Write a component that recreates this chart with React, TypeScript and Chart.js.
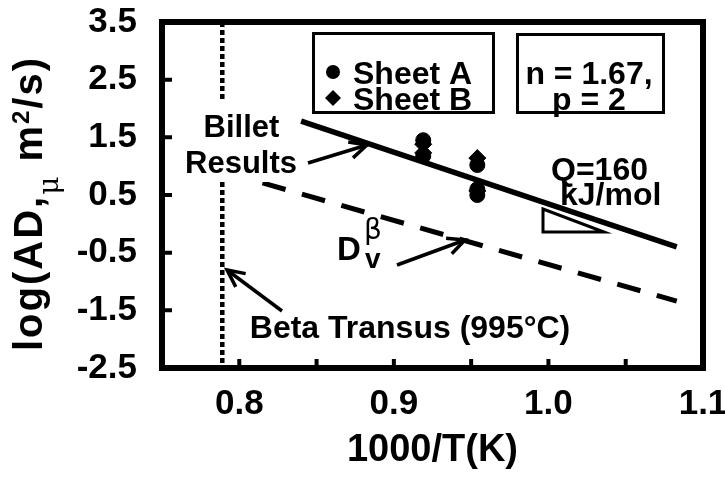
import React, { useEffect, useRef } from "react";
import { Chart, registerables } from "chart.js";

Chart.register(...registerables);

const FONT = '"Liberation Sans", Arial, Helvetica, sans-serif';

// Axis ticks
const xLabelTicks = [0.8, 0.9, 1.0, 1.1];
const xMinorTicks = [0.8, 0.85, 0.9, 0.95, 1.0, 1.05];
const yTicks = [-2.5, -1.5, -0.5, 0.5, 1.5, 2.5, 3.5];

// Sheet A (circles)
const sheetAX = [0.919, 0.919, 0.954, 0.954, 0.954];
const sheetAY = [1.45, 1.18, 1.02, 0.6, 0.5];
// Sheet B (diamonds)
const sheetBX = [0.919, 0.919, 0.954, 0.954];
const sheetBY = [1.38, 1.23, 1.14, 0.57];
// Billet results line (Q = 160 kJ/mol)
const billetX = [0.84, 1.083];
const billetY = [1.78, -0.4];
// D_v beta line
const dvX = [0.815, 1.083];
const dvY = [0.71, -1.34];
// Beta transus (995 C)
const transusX = [0.789, 0.789];
const transusY = [3.5, -2.5];

const pts = (xs: number[], ys: number[]) => xs.map((x, i) => ({ x, y: ys[i] }));

function arrow(ctx: CanvasRenderingContext2D, x1: number, y1: number, x2: number, y2: number) {
  ctx.save();
  ctx.strokeStyle = "#000";
  ctx.lineWidth = 3.5;
  ctx.lineCap = "butt";
  ctx.beginPath();
  ctx.moveTo(x1, y1);
  ctx.lineTo(x2, y2);
  ctx.stroke();
  const a = Math.atan2(y2 - y1, x2 - x1);
  const L = 19;
  const w = 0.45;
  ctx.lineJoin = "miter";
  ctx.beginPath();
  ctx.moveTo(x2 - L * Math.cos(a - w), y2 - L * Math.sin(a - w));
  ctx.lineTo(x2, y2);
  ctx.lineTo(x2 - L * Math.cos(a + w), y2 - L * Math.sin(a + w));
  ctx.stroke();
  ctx.restore();
}

function drawYTitle(ctx: CanvasRenderingContext2D) {
  ctx.save();
  ctx.translate(42, 203.5);
  ctx.rotate(-Math.PI / 2);
  ctx.fillStyle = "#000";
  ctx.textBaseline = "alphabetic";
  ctx.textAlign = "left";
  const sp = 2;
  const parts = [
    { t: "log(AD,", f: `bold 40px ${FONT}`, dy: 0 },
    { t: "\u03bc", f: `28px "DejaVu Serif", serif`, dy: 16 },
    { t: " m", f: `bold 40px ${FONT}`, dy: 0 },
    { t: "2", f: `bold 24px ${FONT}`, dy: -13 },
    { t: "/s)", f: `bold 40px ${FONT}`, dy: 0 },
  ];
  const widths = parts.map((p) => {
    ctx.font = p.f;
    return ctx.measureText(p.t).width + sp * p.t.length;
  });
  const total = widths.reduce((a, b) => a + b, 0);
  let x = -total / 2;
  parts.forEach((p, i) => {
    ctx.font = p.f;
    let cx = x;
    for (const ch of p.t) {
      ctx.fillText(ch, cx, p.dy);
      cx += ctx.measureText(ch).width + sp;
    }
    x += widths[i];
  });
  ctx.restore();
}

const annotations = {
  id: "annotations",
  afterDatasetsDraw(chart: any) {
    const ctx: CanvasRenderingContext2D = chart.ctx;
    const { left, right, top, bottom } = chart.chartArea;
    const xs = chart.scales.x;
    const ys = chart.scales.y;
    ctx.save();

    // white background behind "Billet Results" (breaks the dotted line)
    ctx.fillStyle = "#fff";
    ctx.fillRect(183, 101, 115, 81);

    // frame
    ctx.strokeStyle = "#000";
    ctx.lineWidth = 6;
    ctx.strokeRect(left, top, right - left, bottom - top);

    // inner tick marks
    ctx.lineWidth = 4;
    ctx.beginPath();
    xMinorTicks.forEach((v) => {
      const p = xs.getPixelForValue(v);
      ctx.moveTo(p, bottom);
      ctx.lineTo(p, bottom - 9);
    });
    yTicks.forEach((v) => {
      if (v <= -2.5 || v >= 3.5) return;
      const p = ys.getPixelForValue(v);
      ctx.moveTo(left, p);
      ctx.lineTo(left + 10, p);
    });
    ctx.stroke();

    ctx.fillStyle = "#000";
    ctx.textBaseline = "alphabetic";

    // legend box
    ctx.lineWidth = 3;
    ctx.strokeRect(313.5, 33.5, 180, 79);
    ctx.beginPath();
    ctx.arc(333, 72, 7, 0, Math.PI * 2);
    ctx.fill();
    ctx.beginPath();
    ctx.moveTo(333, 90);
    ctx.lineTo(341, 98);
    ctx.lineTo(333, 106);
    ctx.lineTo(325, 98);
    ctx.closePath();
    ctx.fill();
    ctx.font = `bold 32px ${FONT}`;
    ctx.textAlign = "left";
    ctx.fillText("Sheet A", 353, 84);
    ctx.fillText("Sheet B", 353, 110);

    // n, p box
    ctx.strokeRect(517.5, 34.5, 146, 78);
    ctx.textAlign = "center";
    ctx.fillText("n = 1.67,", 589, 84);
    ctx.fillText("p = 2", 589, 110);

    // Billet Results
    ctx.font = `bold 31px ${FONT}`;
    ctx.fillText("Billet", 241.5, 137);
    ctx.fillText("Results", 241, 173);
    arrow(ctx, 308, 163, 367, 145);

    // Q = 160 kJ/mol
    ctx.font = `bold 32px ${FONT}`;
    ctx.textAlign = "left";
    ctx.fillText("Q=160", 551, 180);
    ctx.fillText("kJ/mol", 560, 205);

    // slope triangle
    ctx.lineWidth = 3;
    ctx.lineJoin = "miter";
    ctx.beginPath();
    ctx.moveTo(543, 209);
    ctx.lineTo(543, 232);
    ctx.lineTo(604, 232);
    ctx.closePath();
    ctx.stroke();

    // D_v^beta
    ctx.font = `bold 33px ${FONT}`;
    ctx.fillText("D", 337, 260);
    ctx.font = `28px "DejaVu Sans", ${FONT}`;
    ctx.fillText("\u03b2", 364, 239);
    ctx.font = `bold 28px ${FONT}`;
    ctx.fillText("v", 365, 268);
    arrow(ctx, 397, 265, 465, 240);

    // Beta transus
    ctx.font = `bold 32px ${FONT}`;
    ctx.textAlign = "center";
    ctx.fillText("Beta Transus (995\u00b0C)", 410, 338);
    arrow(ctx, 282, 311, 227, 270);

    // axis titles
    ctx.font = `bold 38px ${FONT}`;
    ctx.textAlign = "center";
    ctx.fillText("1000/T(K)", (left + right) / 2, 461);
    drawYTitle(ctx);

    ctx.restore();
  },
};

export default function App() {
  const ref = useRef<HTMLCanvasElement | null>(null);
  useEffect(() => {
    document.body.style.margin = "0";
    const canvas = ref.current;
    if (!canvas) return;
    Chart.defaults.font.family = FONT;
    Chart.defaults.color = "#000";
    const tickFont = { family: FONT, size: 35, weight: "bold" as const };
    const chart = new Chart(canvas, {
      type: "scatter",
      data: {
        datasets: [
          {
            label: "Beta transus",
            data: pts(transusX, transusY),
            showLine: true,
            borderColor: "#000",
            borderWidth: 4.5,
            borderDash: [5, 3],
            pointRadius: 0,
          },
          {
            label: "Billet Results",
            data: pts(billetX, billetY),
            showLine: true,
            borderColor: "#000",
            borderWidth: 5.5,
            pointRadius: 0,
          },
          {
            label: "Dv beta",
            data: pts(dvX, dvY),
            showLine: true,
            borderColor: "#000",
            borderWidth: 5,
            borderDash: [24, 17],
            pointRadius: 0,
          },
          {
            label: "Sheet A",
            data: pts(sheetAX, sheetAY),
            pointStyle: "circle",
            pointRadius: 7.5,
            backgroundColor: "#000",
            borderColor: "#000",
            borderWidth: 1,
          },
          {
            label: "Sheet B",
            data: pts(sheetBX, sheetBY),
            pointStyle: "rectRot",
            pointRadius: 8.5,
            backgroundColor: "#000",
            borderColor: "#000",
            borderWidth: 1,
          },
        ],
      },
      options: {
        responsive: false,
        animation: false,
        devicePixelRatio: 1,
        layout: { padding: { top: 22, right: 22, left: 0, bottom: 0 } },
        plugins: {
          legend: { display: false },
          tooltip: { enabled: false },
          title: { display: false },
        },
        scales: {
          x: {
            type: "linear",
            min: 0.75,
            max: 1.1,
            grid: { display: false, drawTicks: false },
            border: { display: false },
            ticks: {
              padding: 15,
              color: "#000",
              font: tickFont,
              autoSkip: false,
              maxRotation: 0,
              callback: (v: any) => Number(v).toFixed(1),
            },
            afterBuildTicks: (s: any) => {
              s.ticks = xLabelTicks.map((v) => ({ value: v }));
            },
            afterFit: (s: any) => {
              s.height = 111;
              s.paddingLeft = 0;
              s.paddingRight = 0;
            },
          },
          y: {
            type: "linear",
            min: -2.5,
            max: 3.5,
            grid: { display: false, drawTicks: false },
            border: { display: false },
            ticks: {
              padding: 25,
              color: "#000",
              font: tickFont,
              autoSkip: false,
              callback: (v: any) => Number(v).toFixed(1),
            },
            afterBuildTicks: (s: any) => {
              s.ticks = yTicks.map((v) => ({ value: v }));
            },
            afterFit: (s: any) => {
              s.width = 162;
              s.paddingTop = 0;
              s.paddingBottom = 0;
            },
          },
        },
      },
      plugins: [annotations],
    });
    return () => chart.destroy();
  }, []);
  return (
    <div style={{ width: 725, height: 479 }}>
      <canvas ref={ref} width={725} height={479} style={{ display: "block" }} />
    </div>
  );
}
